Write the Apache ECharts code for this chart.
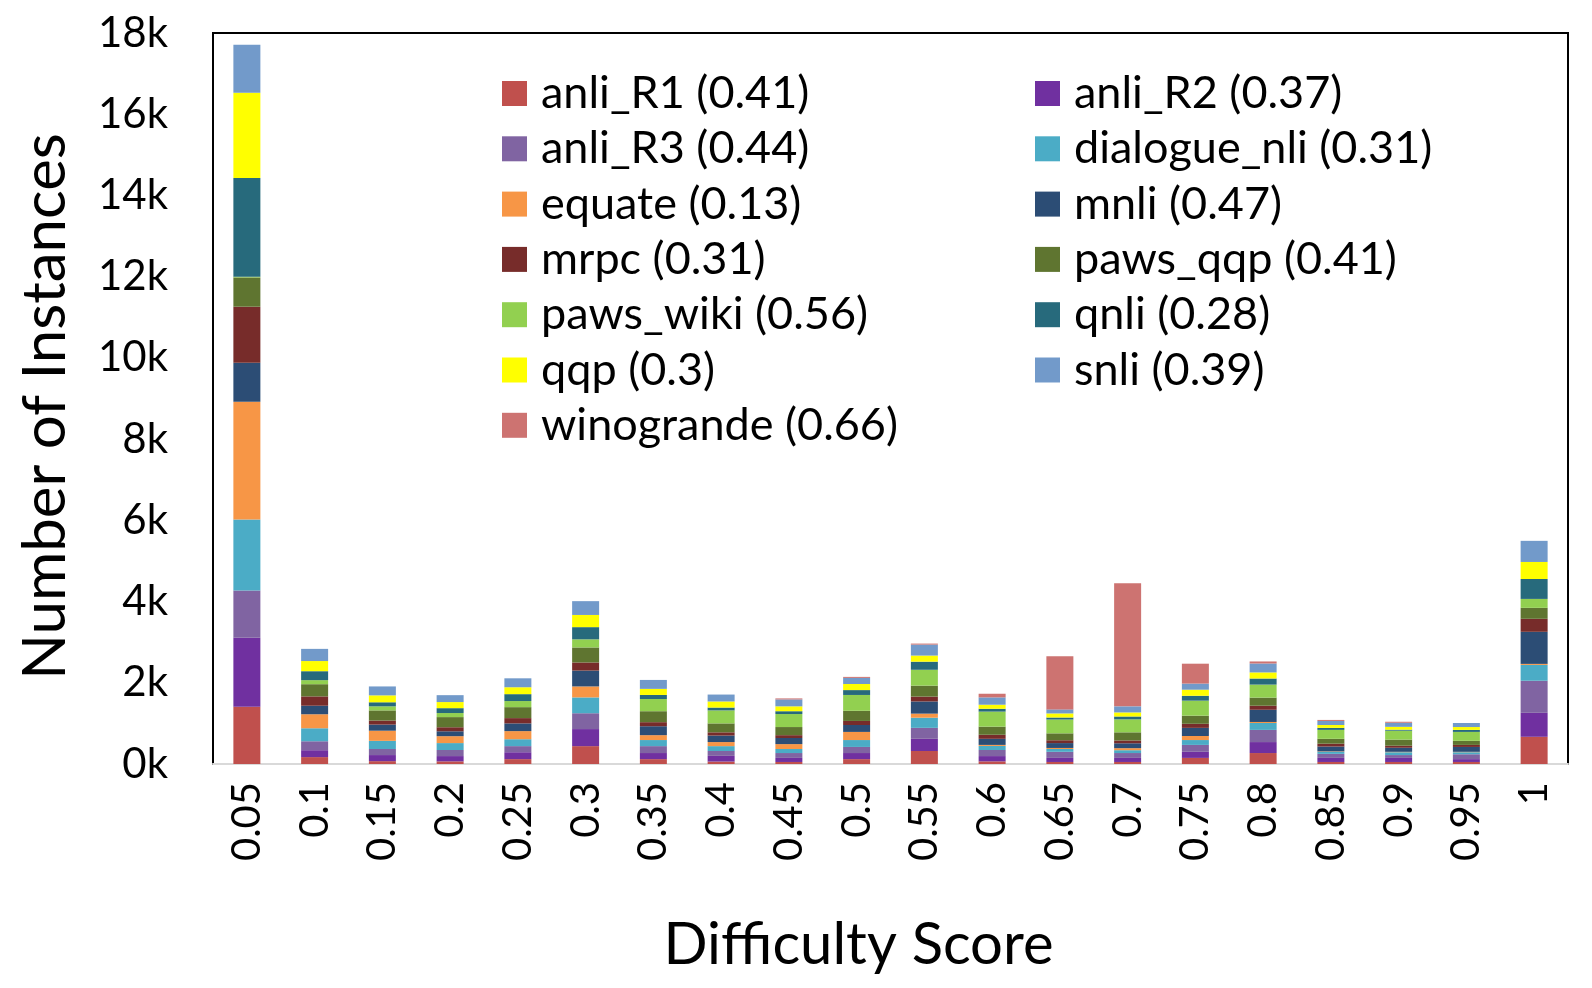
<!DOCTYPE html>
<html>
<head>
<meta charset="utf-8">
<script src="https://cdn.jsdelivr.net/npm/echarts@6/dist/echarts.min.js"></script>
<style>
html,body{margin:0;padding:0;background:#fff;}
#chart{width:1592px;height:988px;}
</style>
</head>
<body>
<div id="chart"></div>
<script>
const categories = ['0.05','0.1','0.15','0.2','0.25','0.3','0.35','0.4','0.45','0.5','0.55','0.6','0.65','0.7','0.75','0.8','0.85','0.9','0.95','1'];
const yTicks = [0,2000,4000,6000,8000,10000,12000,14000,16000,18000];

const anli_R1      = [1410,170,70,65,120,440,120,60,50,120,320,65,50,50,150,270,50,50,50,670];
const anli_R2      = [1700,170,150,130,170,420,150,140,100,150,300,130,100,100,150,270,100,100,70,590];
const anli_R3      = [1160,220,150,150,150,390,170,120,120,150,270,150,150,120,170,300,100,70,120,790];
const dialogue_nli = [1750,320,200,170,170,390,150,120,100,170,250,100,70,70,120,170,50,70,50,390];
const equate       = [2900,345,250,170,200,270,120,100,120,200,100,25,25,50,100,25,10,10,10,25];
const mnli         = [960,210,150,120,190,390,220,160,150,170,300,150,120,120,200,300,120,100,120,790];
const mrpc         = [1380,230,100,100,130,200,100,80,70,100,120,100,70,70,100,100,70,50,50,320];
const paws_qqp     = [720,300,250,250,270,370,270,220,200,250,270,200,170,200,200,200,120,150,100,270];
const paws_wiki    = [20,100,100,100,150,200,300,320,320,390,390,370,340,320,370,320,220,220,220,220];
const qnli         = [2430,220,100,120,170,300,100,70,70,120,200,70,50,70,120,150,50,25,50,490];
const qqp          = [2100,250,170,150,170,300,150,150,120,150,150,100,100,100,150,150,70,70,70,420];
const snli         = [1180,300,220,170,220,340,220,170,170,150,270,180,100,150,150,220,100,100,100,520];
const winogrande   = [0,0,0,0,0,0,0,0,25,25,25,90,1310,3030,490,50,25,25,0,0];

const seriesNames = ['anli_R1 (0.41)','anli_R2 (0.37)','anli_R3 (0.44)','dialogue_nli (0.31)','equate (0.13)','mnli (0.47)','mrpc (0.31)','paws_qqp (0.41)','paws_wiki (0.56)','qnli (0.28)','qqp (0.3)','snli (0.39)','winogrande (0.66)'];
const seriesData = [anli_R1,anli_R2,anli_R3,dialogue_nli,equate,mnli,mrpc,paws_qqp,paws_wiki,qnli,qqp,snli,winogrande];
const seriesColors = ['#C0504D','#7030A0','#8064A2','#4BACC6','#F79646','#2C4D75','#772C2A','#5F7530','#92D050','#276A7C','#FFFF00','#729ACA','#CD7371'];

const FONT = 'Lato';
const chart = echarts.init(document.getElementById('chart'));

const legendCommon = {
  orient: 'vertical',
  itemWidth: 25,
  itemHeight: 25,
  itemGap: 10.3,
  icon: 'rect',
  top: 66,
  textStyle: {fontFamily: FONT, fontSize: 45, color: '#000', lineHeight: 45, padding: [0,0,0,9]}
};

chart.setOption({
  animation: false,
  backgroundColor: '#fff',
  color: seriesColors,
  grid: {left: 213, right: 24, top: 33, bottom: 224, show: true, borderColor: '#000', borderWidth: 2, containLabel: false},
  legend: [
    Object.assign({}, legendCommon, {left: 497, data: seriesNames.filter((_, i) => i % 2 === 0)}),
    Object.assign({}, legendCommon, {left: 1030, data: seriesNames.filter((_, i) => i % 2 === 1)})
  ],
  xAxis: {
    type: 'category',
    data: categories,
    name: 'Difficulty Score',
    nameLocation: 'middle',
    nameGap: 152,
    nameTextStyle: {fontFamily: FONT, fontSize: 58, color: '#000', padding: [0, 64, 0, 0]},
    axisLine: {show: true, lineStyle: {color: '#d9d9d9', width: 2}},
    axisTick: {show: false},
    axisLabel: {rotate: 90, margin: 18, fontFamily: FONT, fontSize: 40, color: '#000', interval: 0}
  },
  yAxis: {
    type: 'value',
    min: 0,
    max: 18000,
    interval: 2000,
    name: 'Number of Instances',
    nameLocation: 'middle',
    nameGap: 137,
    nameTextStyle: {fontFamily: FONT, fontSize: 60, color: '#000', padding: [0, 16, 0, 0]},
    axisLine: {show: true, lineStyle: {color: '#000', width: 2}},
    axisTick: {show: false},
    splitLine: {show: false},
    axisLabel: {margin: 45, fontFamily: FONT, fontSize: 42, color: '#000', formatter: v => yTicks.includes(v) ? (v/1000) + 'k' : ''}
  },
  series: seriesNames.map((name, i) => ({
    name: name,
    type: 'bar',
    stack: 'total',
    barWidth: 27,
    data: seriesData[i],
    itemStyle: {color: seriesColors[i]}
  }))
});
</script>
</body>
</html>
